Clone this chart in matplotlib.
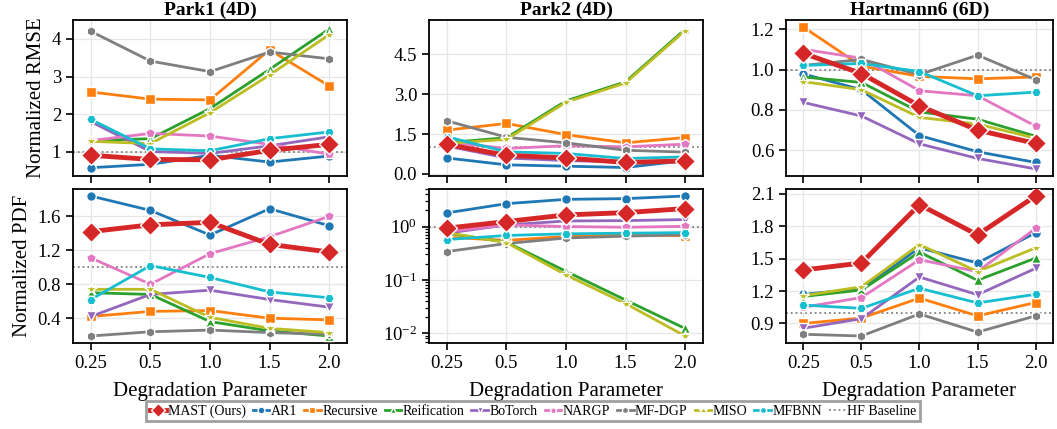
import matplotlib
matplotlib.use("Agg")
import matplotlib.pyplot as plt
import numpy as np

plt.rcParams['font.family'] = ['Liberation Serif', 'DejaVu Serif']
plt.rcParams['mathtext.fontset'] = 'stix'

# x categories
degradation = ['0.25', '0.5', '1.0', '1.5', '2.0']

methods = ['MAST (Ours)', 'AR1', 'Recursive', 'Reification', 'BoTorch',
           'NARGP', 'MF-DGP', 'MISO', 'MFBNN']
colors = ['#d62728', '#1f77b4', '#ff7f0e', '#2ca02c', '#9467bd',
          '#e377c2', '#7f7f7f', '#bcbd22', '#17becf']
markers = ['D', 'o', 's', '^', 'v', 'p', 'h', '*', 'H']

# Park1 (4D)
park1_rmse = {
    'MAST (Ours)': [0.91, 0.80, 0.79, 1.04, 1.20],
    'AR1':         [0.58, 0.67, 0.91, 0.73, 0.89],
    'Recursive':   [2.59, 2.40, 2.38, 3.71, 2.75],
    'Reification': [1.30, 1.35, 2.15, 3.19, 4.26],
    'BoTorch':     [1.80, 1.01, 0.96, 1.16, 1.40],
    'NARGP':       [1.30, 1.49, 1.42, 1.20, 0.94],
    'MF-DGP':      [4.20, 3.41, 3.13, 3.65, 3.47],
    'MISO':        [1.28, 1.22, 2.04, 3.04, 4.11],
    'MFBNN':       [1.86, 1.08, 1.03, 1.35, 1.53],
}
park1_pdf = {
    'MAST (Ours)': [1.42, 1.50, 1.53, 1.27, 1.18],
    'AR1':         [1.84, 1.67, 1.38, 1.69, 1.49],
    'Recursive':   [0.42, 0.48, 0.49, 0.40, 0.38],
    'Reification': [0.70, 0.68, 0.36, 0.25, 0.19],
    'BoTorch':     [0.42, 0.68, 0.73, 0.62, 0.53],
    'NARGP':       [1.11, 0.80, 1.16, 1.36, 1.60],
    'MF-DGP':      [0.19, 0.24, 0.26, 0.23, 0.21],
    'MISO':        [0.74, 0.74, 0.41, 0.28, 0.23],
    'MFBNN':       [0.62, 1.02, 0.88, 0.71, 0.64],
}

# Park2 (4D)
park2_rmse = {
    'MAST (Ours)': [1.11, 0.70, 0.60, 0.43, 0.49],
    'AR1':         [0.60, 0.34, 0.29, 0.24, 0.50],
    'Recursive':   [1.65, 1.90, 1.48, 1.17, 1.37],
    'Reification': [1.18, 1.36, 2.75, 3.47, 5.45],
    'BoTorch':     [1.05, 0.60, 0.50, 0.45, 0.50],
    'NARGP':       [1.20, 0.96, 1.06, 1.02, 1.12],
    'MF-DGP':      [2.00, 1.38, 1.17, 0.89, 0.82],
    'MISO':        [1.15, 1.30, 2.70, 3.43, 5.40],
    'MFBNN':       [1.40, 0.83, 0.77, 0.58, 0.64],
}
park2_pdf = {
    'MAST (Ours)': [0.93, 1.24, 1.65, 1.82, 2.17],
    'AR1':         [1.80, 2.68, 3.23, 3.33, 3.73],
    'Recursive':   [0.63, 0.55, 0.65, 0.70, 0.67],
    'Reification': [0.75, 0.51, 0.145, 0.042, 0.0123],
    'BoTorch':     [0.75, 1.07, 1.27, 1.29, 1.35],
    'NARGP':       [0.80, 1.07, 1.00, 0.97, 1.01],
    'MF-DGP':      [0.34, 0.48, 0.61, 0.66, 0.70],
    'MISO':        [0.77, 0.50, 0.124, 0.036, 0.0089],
    'MFBNN':       [0.57, 0.68, 0.73, 0.75, 0.77],
}

# Hartmann6 (6D)
hart_rmse = {
    'MAST (Ours)': [1.08, 0.98, 0.82, 0.70, 0.634],
    'AR1':         [0.978, 0.90, 0.673, 0.593, 0.54],
    'Recursive':   [1.21, 1.017, 0.966, 0.954, 0.963],
    'Reification': [0.963, 0.936, 0.79, 0.754, 0.67],
    'BoTorch':     [0.837, 0.77, 0.632, 0.56, 0.508],
    'NARGP':       [1.10, 1.056, 0.895, 0.87, 0.72],
    'MF-DGP':      [1.02, 1.05, 0.975, 1.071, 0.95],
    'MISO':        [0.94, 0.90, 0.763, 0.73, 0.66],
    'MFBNN':       [1.02, 1.03, 0.99, 0.87, 0.888],
}
hart_pdf = {
    'MAST (Ours)': [1.395, 1.46, 2.00, 1.72, 2.08],
    'AR1':         [1.17, 1.22, 1.60, 1.46, 1.74],
    'Recursive':   [0.90, 0.95, 1.135, 0.97, 1.094],
    'Reification': [1.15, 1.21, 1.56, 1.30, 1.505],
    'BoTorch':     [0.856, 0.944, 1.33, 1.166, 1.41],
    'NARGP':       [1.05, 1.14, 1.49, 1.38, 1.78],
    'MF-DGP':      [0.80, 0.784, 0.988, 0.82, 0.97],
    'MISO':        [1.157, 1.24, 1.63, 1.38, 1.60],
    'MFBNN':       [1.07, 1.04, 1.226, 1.09, 1.17],
}

titles = ['Park1 (4D)', 'Park2 (4D)', 'Hartmann6 (6D)']
rmse_sets = [park1_rmse, park2_rmse, hart_rmse]
pdf_sets = [park1_pdf, park2_pdf, hart_pdf]

W, H = 1057, 429
fig = plt.figure(figsize=(W / 100, H / 100), dpi=100)

# axes boxes in pixels: left, right
cols_px = [(73, 347), (429, 703), (786, 1053)]
top_px = (20, 176)
bot_px = (189, 343)

def px_axes(x0, x1, y0, y1):
    return fig.add_axes([x0 / W, 1 - y1 / H, (x1 - x0) / W, (y1 - y0) / H])

x = np.arange(len(degradation))

def draw(ax, data):
    for i, m in enumerate(methods):
        main = (i == 0)
        ax.plot(x, data[m], color=colors[i], marker=markers[i],
                lw=3.5 if main else 2.0, ms=10 if main else 7 if markers[i] != '*' else 9,
                mec='white', mew=1.0, zorder=5 if main else 3, label=m)
    ax.axhline(1.0, color='gray', ls=':', lw=1.3, zorder=2, label='HF Baseline')
    ax.grid(True, color='#e6e6e6', lw=0.9, zorder=0)
    ax.set_axisbelow(True)
    ax.set_xlim(-0.3, 4.3)
    ax.set_xticks(x)
    ax.tick_params(axis='both', direction='out', length=5, width=1.2, labelsize=13.5)
    for s in ax.spines.values():
        s.set_linewidth(1.3)

top_axes = []
bot_axes = []
for c in range(3):
    at = px_axes(cols_px[c][0], cols_px[c][1], *top_px)
    ab = px_axes(cols_px[c][0], cols_px[c][1], *bot_px)
    draw(at, rmse_sets[c])
    draw(ab, pdf_sets[c])
    at.set_xticklabels([])
    ab.set_xticklabels(degradation)
    at.set_title(titles[c], fontsize=14, fontweight='bold', pad=4)
    ab.set_xlabel('Degradation Parameter', fontsize=15, labelpad=7)
    top_axes.append(at)
    bot_axes.append(ab)

# per-panel axis settings
top_axes[0].set_ylim(0.36, 4.5)
top_axes[0].set_yticks([1, 2, 3, 4])
top_axes[1].set_ylim(-0.08, 5.8)
top_axes[1].set_yticks([0.0, 1.5, 3.0, 4.5])
top_axes[1].yaxis.set_major_formatter(plt.FormatStrFormatter('%.1f'))
top_axes[2].set_yticks([0.6, 0.8, 1.0, 1.2])
top_axes[2].yaxis.set_major_formatter(plt.FormatStrFormatter('%.1f'))

bot_axes[0].set_yticks([0.4, 0.8, 1.2, 1.6])
bot_axes[0].yaxis.set_major_formatter(plt.FormatStrFormatter('%.1f'))
bot_axes[1].set_yscale('log')
bot_axes[1].tick_params(axis='y', which='minor', direction='out', length=3, width=0.9)
bot_axes[2].set_yticks([0.9, 1.2, 1.5, 1.8, 2.1])
bot_axes[2].yaxis.set_major_formatter(plt.FormatStrFormatter('%.1f'))

top_axes[0].set_ylabel('Normalized RMSE', fontsize=15)
bot_axes[0].set_ylabel('Normalized PDF', fontsize=15)

handles, labels = bot_axes[0].get_legend_handles_labels()
leg = fig.legend(handles, labels, loc='center', bbox_to_anchor=(533 / W, 1 - 411 / H),
                 ncol=10, fontsize=10, frameon=True, fancybox=False,
                 handlelength=1.2, handletextpad=0.1, columnspacing=0.5,
                 borderpad=0.25, markerscale=0.7)
leg.get_frame().set_edgecolor('#888888')
leg.get_frame().set_linewidth(2.0)

fig.savefig('out.png', dpi=100)
